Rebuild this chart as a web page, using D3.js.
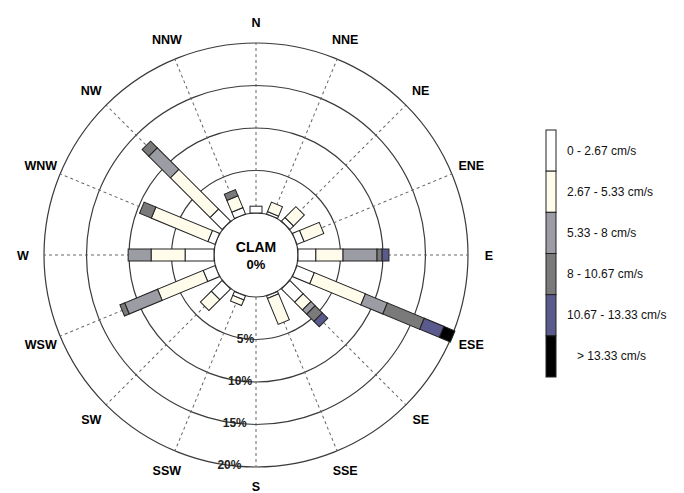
<!DOCTYPE html>
<html>
<head>
<meta charset="utf-8">
<script src="https://cdn.jsdelivr.net/npm/d3@7"></script>
<style>
  body { margin: 0; background: #fff; }
  svg { font-family: "Liberation Sans", Arial, sans-serif; }
</style>
</head>
<body>
<svg width="684" height="493"></svg>
<script>
// directions, clockwise from north
let directions = ['N', 'NNE', 'NE', 'ENE', 'E', 'ESE', 'SE', 'SSE',
                  'S', 'SSW', 'SW', 'WSW', 'W', 'WNW', 'NW', 'NNW'];
let speedBins = ['0 - 2.67 cm/s', '2.67 - 5.33 cm/s', '5.33 - 8 cm/s',
                 '8 - 10.67 cm/s', '10.67 - 13.33 cm/s', '> 13.33 cm/s'];
// frequency (%) per direction for each speed bin
let bin1 = [0.8, 0.3, 0.6, 0.9, 2.1, 2.2, 2.2, 0.3, 0, 0.5, 1.8, 1.5, 3.4, 0.9, 2.0, 0.8];
let bin2 = [0, 1.2, 1.8, 2.5, 3.2, 6.5, 1.3, 3.3, 0, 0.7, 1.8, 5.8, 4.0, 7.2, 6.6, 1.5];
let bin3 = [0, 0, 0, 0, 4.0, 2.8, 0.7, 0, 0, 0, 0, 4.2, 2.7, 0, 3.6, 0];
let bin4 = [0, 0, 0, 0, 0.6, 4.7, 1.2, 0, 0, 0, 0, 0.6, 0, 1.5, 1.1, 0.8];
let bin5 = [0, 0, 0, 0, 0.8, 2.5, 0.9, 0, 0, 0, 0, 0, 0, 0, 0, 0];
let bin6 = [0, 0, 0, 0, 0, 1.4, 0, 0, 0, 0, 0, 0, 0, 0, 0, 0];
let ringTicks = [5, 10, 15, 20];
let ringLabels = ['5%', '10%', '15%', '20%'];

function main() {
    let bins = [bin1, bin2, bin3, bin4, bin5, bin6];
    let svg = d3.select('svg'),
        cx = 256,
        cy = 255;

    let rScale = d3.scaleLinear().domain([0, 20]).range([42, 212]);
    let dirAngle = (d) => directions.indexOf(d) * 360 / directions.length;
    let colorScale = d3.scaleOrdinal()
        .domain(speedBins)
        .range(['#ffffff', '#fffcec', '#9c9ca4', '#7a7a7a', '#5a5a8c', '#000000']);

    let g = svg.append('g').attr('transform', 'translate(' + cx + ',' + cy + ')');

    //Rings
    g.selectAll('circle.ring')
        .data([0].concat(ringTicks))
        .enter()
        .append('circle')
        .attr('class', 'ring')
        .attr('r', (d) => rScale(d))
        .attr('fill', 'none')
        .attr('stroke', '#3a3a3a')
        .attr('stroke-width', 1.2);

    //Spokes
    g.selectAll('line.spoke')
        .data(directions)
        .enter()
        .append('line')
        .attr('transform', (d) => 'rotate(' + dirAngle(d) + ')')
        .attr('x1', 0).attr('x2', 0)
        .attr('y1', -rScale(0))
        .attr('y2', -rScale(20))
        .attr('stroke', '#666')
        .attr('stroke-width', 1)
        .attr('stroke-dasharray', '3,3');

    //Stacked bars
    let stacked = [];
    directions.forEach((dir, i) => {
        let start = 0;
        bins.forEach((b, j) => {
            if (b[i] > 0) {
                stacked.push({ dir: dir, bin: speedBins[j], start: start, end: start + b[i] });
            }
            start += b[i];
        });
    });
    let barW = 12;
    g.selectAll('rect.seg')
        .data(stacked)
        .enter()
        .append('rect')
        .attr('class', 'seg')
        .attr('transform', (d) => 'rotate(' + dirAngle(d.dir) + ')')
        .attr('x', -barW / 2)
        .attr('width', barW)
        .attr('y', (d) => -rScale(d.end))
        .attr('height', (d) => rScale(d.end) - rScale(d.start))
        .attr('fill', (d) => colorScale(d.bin))
        .attr('stroke', '#222')
        .attr('stroke-width', 1);

    //Center text
    g.append('text')
        .attr('text-anchor', 'middle')
        .attr('y', -3)
        .style('font-size', '14px')
        .style('font-weight', 'bold')
        .text('CLAM');
    g.append('text')
        .attr('text-anchor', 'middle')
        .attr('y', 14)
        .style('font-size', '13px')
        .style('font-weight', 'bold')
        .text('0%');

    //Ring labels
    g.selectAll('text.ringlab')
        .data(ringTicks)
        .enter()
        .append('text')
        .attr('text-anchor', 'middle')
        .attr('x', (d) => rScale(d) * Math.sin(-7.2 * Math.PI / 180))
        .attr('y', (d) => rScale(d) * Math.cos(7.2 * Math.PI / 180) + 4)
        .style('font-size', '12px')
        .style('font-weight', 'bold')
        .attr('fill', '#222')
        .text((d, i) => ringLabels[i]);

    //Direction labels
    let labR = 233;
    g.selectAll('text.dir')
        .data(directions)
        .enter()
        .append('text')
        .attr('text-anchor', 'middle')
        .attr('x', (d) => labR * Math.sin(dirAngle(d) * Math.PI / 180))
        .attr('y', (d) => Math.min(-labR * Math.cos(dirAngle(d) * Math.PI / 180) + 4.5, 236))
        .style('font-size', '12.5px')
        .style('font-weight', 'bold')
        .text((d) => d);

    //Legend
    let legY = d3.scaleBand().domain(speedBins).range([130, 377]);
    let leg = svg.append('g');
    leg.selectAll('rect')
        .data(speedBins)
        .enter()
        .append('rect')
        .attr('x', 546)
        .attr('y', (d) => legY(d))
        .attr('width', 10)
        .attr('height', legY.bandwidth())
        .attr('fill', (d) => colorScale(d))
        .attr('stroke', '#222')
        .attr('stroke-width', 1);
    leg.selectAll('text')
        .data(speedBins)
        .enter()
        .append('text')
        .attr('x', (d, i) => i === 5 ? 577 : 567)
        .attr('y', (d) => legY(d) + legY.bandwidth() / 2 + 4)
        .style('font-size', '12px')
        .attr('fill', '#111')
        .text((d) => d);
}

main();
</script>
</body>
</html>
